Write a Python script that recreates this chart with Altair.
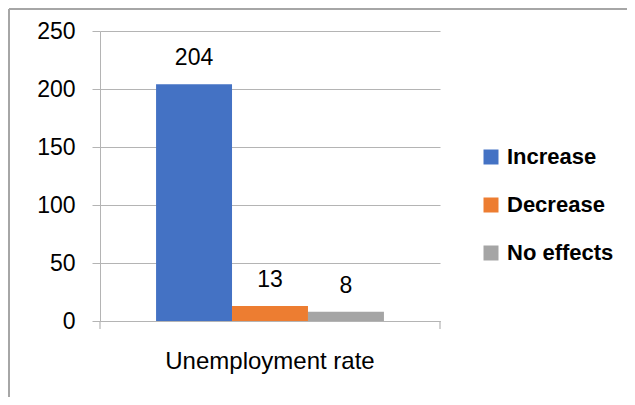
import altair as alt
import pandas as pd

categories = ["Unemployment rate"]
series = ["Increase", "Decrease", "No effects"]
values = [204, 13, 8]
colors = ["#4472C4", "#ED7D31", "#A5A5A5"]
y_ticks = [0, 50, 100, 150, 200, 250]

df = pd.DataFrame({
    "category": [categories[0]] * len(series),
    "series": series,
    "value": values,
})

FONT = "Liberation Sans"
GRID = "#b4b4b4"

y_scale = alt.Scale(domain=[0, 250], nice=False, zero=True)

x_enc = alt.X("category:N",
              scale=alt.Scale(paddingInner=0, paddingOuter=0.246),
              axis=alt.Axis(title=None, labelAngle=0, ticks=False, labelFontSize=24,
                            labelPadding=28, labelColor="#000000", domainColor=GRID,
                            domainWidth=1.2, labelFont=FONT, labelLimit=0))
xoff_enc = alt.XOffset("series:N", sort=series,
                       scale=alt.Scale(paddingInner=0, paddingOuter=0))
y_enc = alt.Y("value:Q",
              scale=y_scale,
              axis=alt.Axis(title=None, values=y_ticks, tickSize=8, tickColor=GRID,
                            domainColor=GRID, gridColor=GRID, gridWidth=1.2,
                            labelFontSize=23, labelPadding=17, labelColor="#000000",
                            labelFont=FONT))

bars = alt.Chart(df).mark_bar().encode(
    x=x_enc,
    xOffset=xoff_enc,
    y=y_enc,
    color=alt.Color("series:N", sort=series,
                    scale=alt.Scale(domain=series, range=colors),
                    legend=alt.Legend(title=None, orient="none", legendX=380, legendY=115,
                                      symbolType="square", symbolSize=225,
                                      symbolStrokeWidth=0, labelFontSize=22,
                                      labelFontWeight="bold", labelFont=FONT,
                                      labelColor="#000000", rowPadding=26,
                                      labelOffset=5, padding=0, labelLimit=0)),
)

labels = alt.Chart(df).mark_text(dy=-19, baseline="alphabetic", fontSize=23,
                                 font=FONT, color="#000000").encode(
    x=alt.X("category:N", scale=alt.Scale(paddingInner=0, paddingOuter=0.246)),
    xOffset=alt.XOffset("series:N", sort=series,
                        scale=alt.Scale(paddingInner=0, paddingOuter=0)),
    y=alt.Y("value:Q", scale=y_scale),
    text=alt.Text("value:Q"),
)

one = alt.Data(values=[{}])
tick_l = alt.Chart(one).mark_rule(color=GRID, strokeWidth=1.2).encode(
    x=alt.value(0), y=alt.value(290), y2=alt.value(298))
tick_r = alt.Chart(one).mark_rule(color=GRID, strokeWidth=1.2).encode(
    x=alt.value(340), y=alt.value(290), y2=alt.value(298))
frame_l = alt.Chart(one).mark_rule(color="#a6a6a6", strokeWidth=2).encode(
    x=alt.value(-91), y=alt.value(-22), y2=alt.value(366))
frame_t = alt.Chart(one).mark_rule(color="#a6a6a6", strokeWidth=2).encode(
    x=alt.value(-91), x2=alt.value(527), y=alt.value(-22))

chart = alt.layer(bars, labels, tick_l, tick_r, frame_l, frame_t).properties(
    width=340, height=290,
    autosize=alt.AutoSizeParams(type="none"),
    padding={"left": 92, "top": 23, "right": 187, "bottom": 76},
    background="#ffffff",
).configure_view(stroke=None)

chart.save("out.html", embed_options={"renderer": "svg", "actions": False})
